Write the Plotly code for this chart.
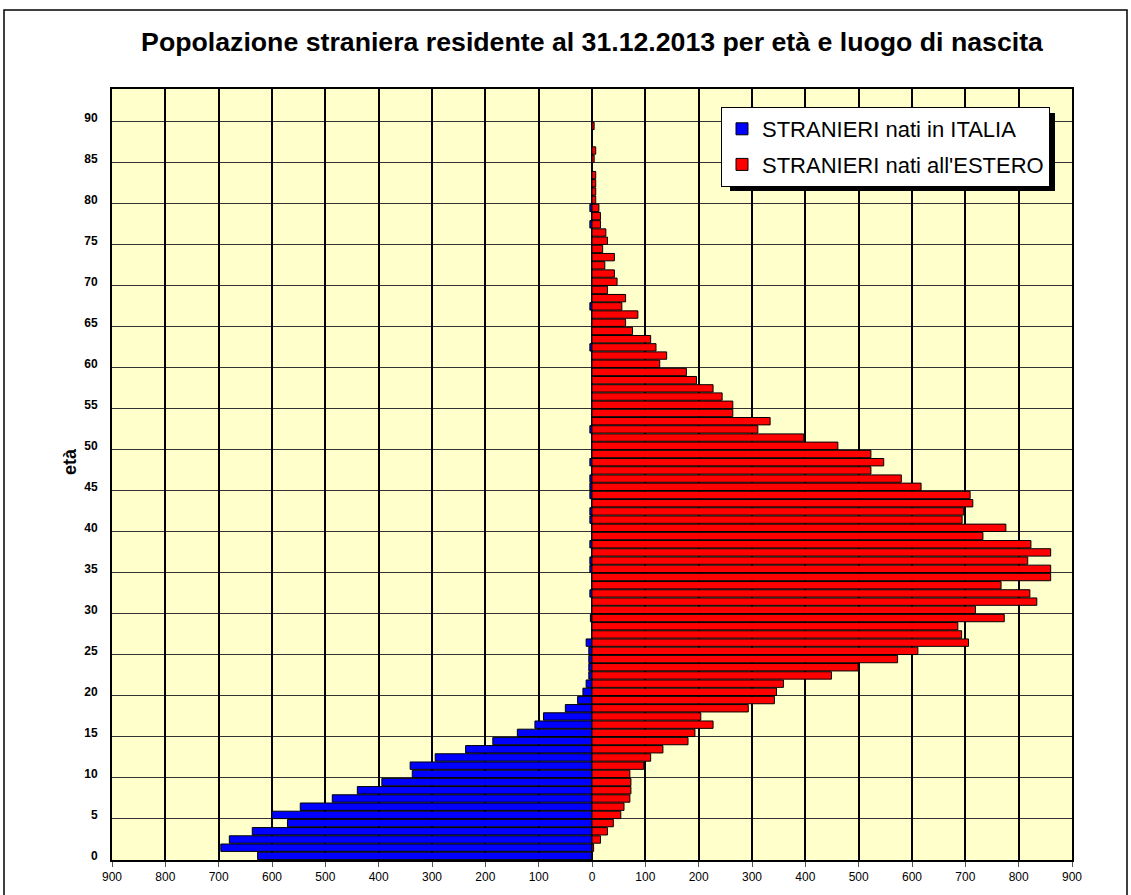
import plotly.graph_objects as go

# ---------------- data ----------------
ages = list(range(94))
nati_italia = [627, 696, 680, 637, 571, 600, 547, 487, 440, 394,
               337, 341, 294, 237, 186, 140, 107, 91, 50, 27,
               17, 11, 6, 6, 6, 6, 11, 0, 0, 3,
               0, 0, 4, 0, 0, 4, 4, 0, 4, 0,
               0, 4, 4, 0, 4, 4, 4, 0, 4, 0,
               0, 0, 4, 0, 0, 0, 0, 0, 0, 0,
               0, 0, 4, 0, 0, 0, 0, 4, 0, 0,
               0, 0, 0, 0, 0, 0, 0, 4, 0, 4,
               0, 0, 0, 0, 0, 0, 0, 0, 0, 0,
               0, 0, 0, 0]
nati_estero = [0, 3, 16, 29, 40, 54, 60, 71, 73, 73,
               71, 97, 110, 133, 180, 193, 227, 204, 293, 342,
               346, 359, 449, 499, 573, 611, 706, 693, 686, 773,
               719, 834, 821, 767, 860, 860, 817, 860, 823, 733,
               776, 694, 697, 714, 709, 617, 580, 523, 547, 523,
               461, 397, 311, 334, 264, 264, 244, 227, 196, 177,
               127, 140, 120, 110, 76, 63, 86, 56, 63, 29,
               47, 42, 24, 42, 20, 29, 26, 16, 16, 13,
               7, 7, 7, 7, 0, 4, 7, 0, 0, 4,
               0, 0, 0, 0]
series_names = ["STRANIERI nati in ITALIA", "STRANIERI nati all'ESTERO"]
x_ticks = list(range(-900, 1000, 100))
x_tick_labels = [str(abs(v)) for v in x_ticks]
y_ticks = list(range(0, 95, 5))
title_text = "Popolazione straniera residente al 31.12.2013 per età e luogo di nascita"
y_title = "età"

# ---------------- layout geometry ----------------
W, H = 1131, 895
ML, MR, MT, MB = 112, 59, 89, 35
PW, PH = W - ML - MR, H - MT - MB


def px(xp):
    return (xp - ML) / PW


def py(yp):
    return (H - MB - yp) / PH


FONT = "Arial, 'Liberation Sans', sans-serif"

fig = go.Figure()
fig.add_trace(go.Bar(
    y=ages, x=[-v for v in nati_italia], orientation="h",
    name=series_names[0], legendgroup="a",
    marker=dict(color="#0000FF", line=dict(color="#000000", width=1)),
    customdata=nati_italia, hovertemplate="età %{y}: %{customdata}<extra></extra>",
))
fig.add_trace(go.Bar(
    y=ages, x=nati_estero, orientation="h",
    name=series_names[1], legendgroup="b",
    marker=dict(color="#FF0000", line=dict(color="#000000", width=1)),
    hovertemplate="età %{y}: %{x}<extra></extra>",
))

# outer frame and legend shadow
shapes = [
    dict(type="rect", xref="paper", yref="paper",
         x0=px(4), x1=px(1127), y0=py(10), y1=py(905),
         line=dict(color="#000000", width=1.5), fillcolor="rgba(0,0,0,0)", layer="below"),
    dict(type="rect", xref="paper", yref="paper",
         x0=px(730), x1=px(1055), y0=py(113), y1=py(191),
         line=dict(width=0), fillcolor="#000000", layer="above"),
]

fig.update_layout(
    width=W, height=H,
    margin=dict(l=ML, r=MR, t=MT, b=MB),
    paper_bgcolor="#FFFFFF",
    plot_bgcolor="#FFFFCC",
    barmode="overlay",
    bargap=0.1,
    font=dict(family=FONT, color="#000000", size=12),
    title=dict(text="<b>" + title_text + "</b>", x=0.5, xref="paper",
               y=1 - 42 / H, yref="container", yanchor="middle", xanchor="center",
               font=dict(size=26.7, family=FONT, color="#000000")),
    legend=dict(x=px(1050), y=py(107), xanchor="right", yanchor="top",
                bgcolor="#FFFFFF", bordercolor="#000000", borderwidth=1,
                font=dict(size=22, family=FONT, color="#000000"),
                tracegroupgap=4, traceorder="grouped"),
    shapes=shapes,
    xaxis=dict(range=[-900, 900], tickmode="array", tickvals=x_ticks, ticktext=x_tick_labels,
               showgrid=True, gridcolor="#000000", gridwidth=1.6,
               zeroline=False, showline=True, linecolor="#000000", linewidth=2, mirror=True,
               ticks="outside", ticklen=5, tickcolor="#555555", tickwidth=1,
               tickfont=dict(size=12, family=FONT, color="#000000")),
    yaxis=dict(range=[-0.5, 93.5], tickmode="array", tickvals=y_ticks,
               ticktext=["<b>%d</b>" % v for v in y_ticks],
               showgrid=False, zeroline=False,
               showline=True, linecolor="#000000", linewidth=2, mirror=True,
               ticks="", ticklabelstandoff=10,
               minor=dict(tick0=-0.5, dtick=5, showgrid=True, gridcolor="#333333", gridwidth=1.3),
               tickfont=dict(size=12, family=FONT, color="#000000")),
    annotations=[dict(text="<b>" + y_title + "</b>", xref="paper", yref="paper",
                      x=px(70), y=py(462), xanchor="center", yanchor="middle",
                      textangle=-90, showarrow=False,
                      font=dict(size=18, family=FONT, color="#000000"))],
)

fig.write_html("out.html", config={"displayModeBar": False},
               post_script="document.body.style.margin='0';")
